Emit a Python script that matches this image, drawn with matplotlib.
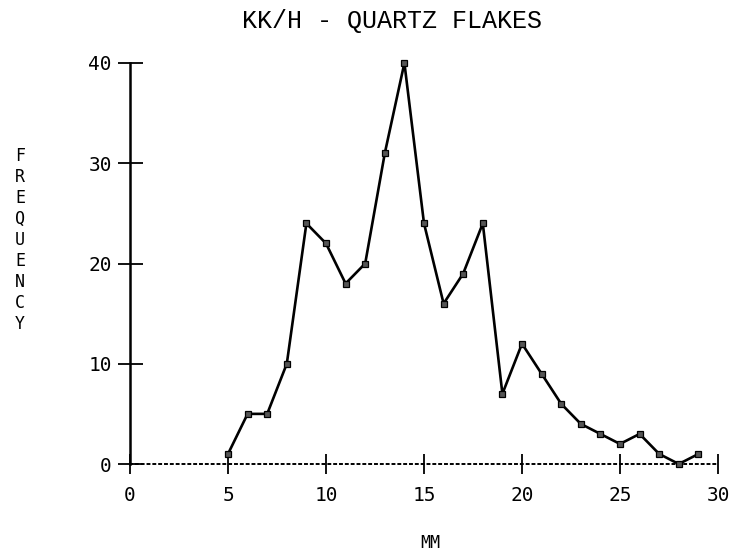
import matplotlib.pyplot as plt

# flake size (mm) vs count
size_mm = [5, 6, 7, 8, 9, 10, 11, 12, 13, 14, 15, 16, 17, 18, 19, 20, 21, 22, 23, 24, 25, 26, 27, 28, 29]
frequency = [1, 5, 5, 10, 24, 22, 18, 20, 31, 40, 24, 16, 19, 24, 7, 12, 9, 6, 4, 3, 2, 3, 1, 0, 1]

x_ticks = [0, 5, 10, 15, 20, 25, 30]
y_ticks = [0, 10, 20, 30, 40]

MONO = 'DejaVu Sans Mono'
W, H = 735, 557

fig = plt.figure(figsize=(7.35, 5.57), dpi=100)
ax = fig.add_axes([130 / W, 1 - 464 / H, 588 / W, 401 / H])

ax.plot(size_mm, frequency, color='black', lw=1.9, marker='s', ms=4.5,
        mfc='#555555', mec='black', mew=0.9, clip_on=False, zorder=3)

ax.set_xlim(0, 30)
ax.set_ylim(0, 40)
ax.set_xticks(x_ticks)
ax.set_yticks(y_ticks)

for s in ['top', 'right']:
    ax.spines[s].set_visible(False)
ax.spines['left'].set_linewidth(1.8)
ax.spines['bottom'].set_linestyle((0, (1, 2)))
ax.spines['bottom'].set_linewidth(1.4)

ax.tick_params(axis='x', direction='inout', length=15, width=1.3, pad=8)
ax.tick_params(axis='y', direction='inout', length=18, width=1.3, pad=4)
for lab in ax.get_xticklabels() + ax.get_yticklabels():
    lab.set_fontfamily(MONO)
    lab.set_fontsize(14)

fig.text(392 / W, 1 - 21 / H, 'KK/H - QUARTZ FLAKES', ha='center', va='center',
         family='Liberation Mono', fontsize=18)
fig.text(430 / W, 1 - 543 / H, 'MM', ha='center', va='center',
         family=MONO, fontsize=12)

# stacked vertical y label
for i, ch in enumerate('FREQUENCY'):
    fig.text(20 / W, 1 - (156 + i * 21) / H, ch, ha='center', va='center',
             family=MONO, fontsize=12)

plt.savefig('out.png', dpi=100)
